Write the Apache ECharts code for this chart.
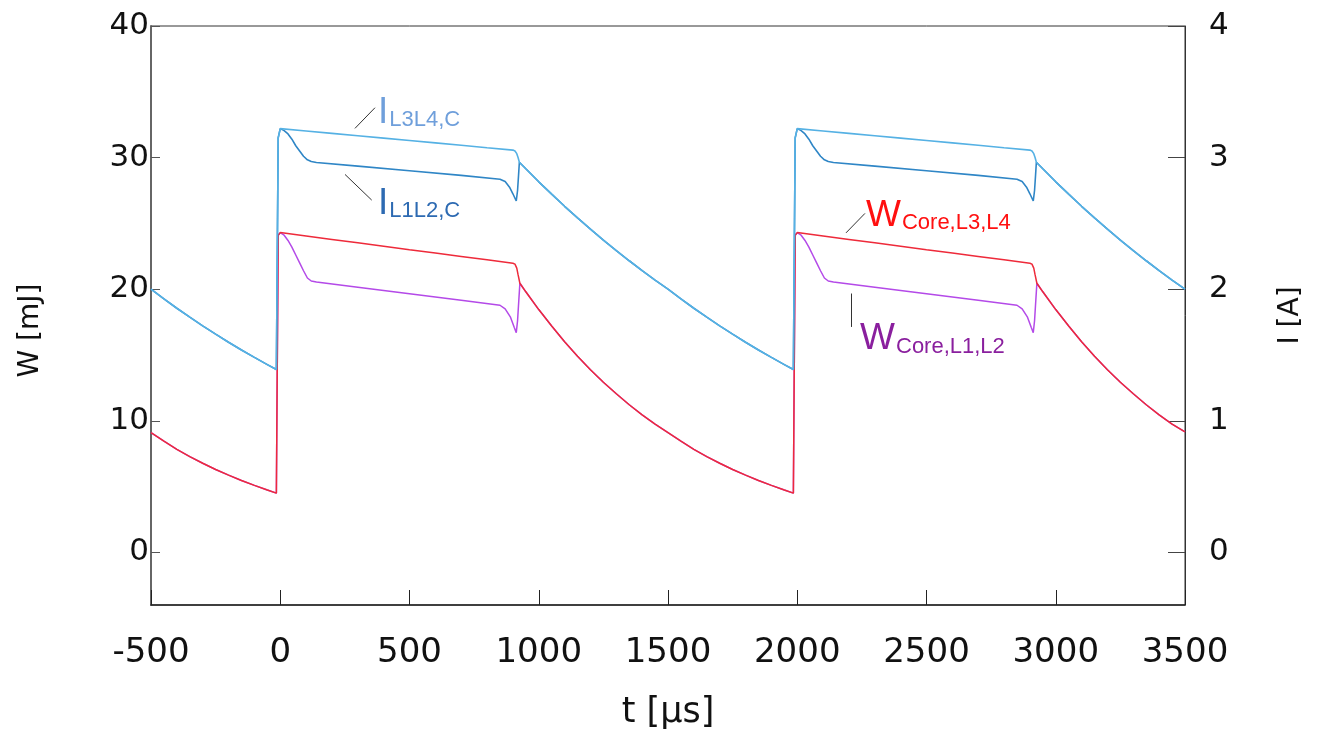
<!DOCTYPE html>
<html>
<head>
<meta charset="utf-8">
<script src="https://cdn.jsdelivr.net/npm/echarts@6/dist/echarts.min.js"></script>
<style>
html,body{margin:0;padding:0;background:#fff;}
#chart{width:1324px;height:731px;}
</style>
</head>
<body>
<div id="chart"></div>
<script>
// ---- data: [t (µs), value] ----
// I_L3L4,C  (A, right axis)
const iL3L4 = [
 [-500,2.00],[-450,1.926],[-400,1.855],[-350,1.787],[-300,1.721],[-250,1.658],[-200,1.597],[-150,1.538],[-100,1.482],[-50,1.427],[-15,1.39],[-8,3.15],
 [0,3.22],[100,3.202],[200,3.184],[300,3.166],[400,3.148],[500,3.13],[600,3.112],[700,3.094],[800,3.075],[900,3.057],
 [908,3.05],[915,3.03],[920,3.00],[925,2.965],[950,2.915],[1000,2.816],[1050,2.722],[1100,2.63],[1150,2.542],[1200,2.456],
 [1250,2.373],[1300,2.293],[1350,2.216],[1400,2.141],[1450,2.069],
 [1500,2.00],[1550,1.926],[1600,1.855],[1650,1.787],[1700,1.721],[1750,1.658],[1800,1.597],[1850,1.538],[1900,1.482],[1950,1.427],[1985,1.39],[1992,3.15],
 [2000,3.22],[2100,3.202],[2200,3.184],[2300,3.166],[2400,3.148],[2500,3.13],[2600,3.112],[2700,3.094],[2800,3.075],[2900,3.057],
 [2908,3.05],[2915,3.03],[2920,3.00],[2925,2.965],[2950,2.915],[3000,2.816],[3050,2.722],[3100,2.63],[3150,2.542],[3200,2.456],
 [3250,2.373],[3300,2.293],[3350,2.216],[3400,2.141],[3450,2.069],[3500,2.00]
];
// I_L1L2,C  (A, right axis)
const iL1L2 = [
 [-500,2.00],[-450,1.926],[-400,1.855],[-350,1.787],[-300,1.721],[-250,1.658],[-200,1.597],[-150,1.538],[-100,1.482],[-50,1.427],[-15,1.39],[-8,3.15],
 [0,3.22],[15,3.205],[30,3.18],[45,3.14],[60,3.09],[75,3.05],[90,3.01],[105,2.983],[120,2.97],[140,2.963],
 [300,2.935],[500,2.90],[700,2.865],[850,2.835],[870,2.818],[887,2.775],[900,2.725],[913,2.67],[918,2.75],[922,2.87],[925,2.965],
 [950,2.915],[1000,2.816],[1050,2.722],[1100,2.63],[1150,2.542],[1200,2.456],
 [1250,2.373],[1300,2.293],[1350,2.216],[1400,2.141],[1450,2.069],
 [1500,2.00],[1550,1.926],[1600,1.855],[1650,1.787],[1700,1.721],[1750,1.658],[1800,1.597],[1850,1.538],[1900,1.482],[1950,1.427],[1985,1.39],[1992,3.15],
 [2000,3.22],[2015,3.205],[2030,3.18],[2045,3.14],[2060,3.09],[2075,3.05],[2090,3.01],[2105,2.983],[2120,2.97],[2140,2.963],
 [2300,2.935],[2500,2.90],[2700,2.865],[2850,2.835],[2870,2.818],[2887,2.775],[2900,2.725],[2913,2.67],[2918,2.75],[2922,2.87],[2925,2.965],
 [2950,2.915],[3000,2.816],[3050,2.722],[3100,2.63],[3150,2.542],[3200,2.456],
 [3250,2.373],[3300,2.293],[3350,2.216],[3400,2.141],[3450,2.069],[3500,2.00]
];
// W_Core,L3,L4  (mJ, left axis)
const wL3L4 = [
 [-500,9.1],[-450,8.45],[-400,7.83],[-350,7.27],[-300,6.77],[-250,6.30],[-200,5.87],[-150,5.46],[-100,5.09],[-50,4.74],[-15,4.5],[-8,24.1],
 [0,24.3],[100,24.04],[200,23.78],[300,23.52],[400,23.26],[500,23.0],[600,22.75],[700,22.49],[800,22.23],[900,21.97],
 [908,21.9],[915,21.6],[920,21.1],[927,20.45],[950,19.8],[1000,18.45],[1050,17.2],[1100,16.0],[1150,14.9],[1200,13.88],
 [1250,12.93],[1300,12.05],[1350,11.22],[1400,10.45],[1450,9.75],
 [1500,9.1],[1550,8.45],[1600,7.83],[1650,7.27],[1700,6.77],[1750,6.30],[1800,5.87],[1850,5.46],[1900,5.09],[1950,4.74],[1985,4.5],[1992,24.1],
 [2000,24.3],[2100,24.04],[2200,23.78],[2300,23.52],[2400,23.26],[2500,23.0],[2600,22.75],[2700,22.49],[2800,22.23],[2900,21.97],
 [2908,21.9],[2915,21.6],[2920,21.1],[2927,20.45],[2950,19.8],[3000,18.45],[3050,17.2],[3100,16.0],[3150,14.9],[3200,13.88],
 [3250,12.93],[3300,12.05],[3350,11.22],[3400,10.45],[3450,9.75],[3500,9.15]
];
// W_Core,L1,L2  (mJ, left axis)
const wL1L2 = [
 [-500,9.1],[-450,8.45],[-400,7.83],[-350,7.27],[-300,6.77],[-250,6.30],[-200,5.87],[-150,5.46],[-100,5.09],[-50,4.74],[-15,4.5],[-8,24.1],
 [0,24.3],[15,24.1],[30,23.7],[45,23.2],[60,22.6],[75,22.0],[90,21.4],[105,20.85],[120,20.62],[140,20.55],
 [300,20.15],[500,19.65],[700,19.15],[850,18.78],[870,18.5],[890,17.9],[905,17.1],[913,16.7],[918,17.6],[923,19.2],[927,20.45],
 [950,19.8],[1000,18.45],[1050,17.2],[1100,16.0],[1150,14.9],[1200,13.88],
 [1250,12.93],[1300,12.05],[1350,11.22],[1400,10.45],[1450,9.75],
 [1500,9.1],[1550,8.45],[1600,7.83],[1650,7.27],[1700,6.77],[1750,6.30],[1800,5.87],[1850,5.46],[1900,5.09],[1950,4.74],[1985,4.5],[1992,24.1],
 [2000,24.3],[2015,24.1],[2030,23.7],[2045,23.2],[2060,22.6],[2075,22.0],[2090,21.4],[2105,20.85],[2120,20.62],[2140,20.55],
 [2300,20.15],[2500,19.65],[2700,19.15],[2850,18.78],[2870,18.5],[2890,17.9],[2905,17.1],[2913,16.7],[2918,17.6],[2923,19.2],[2927,20.45],
 [2950,19.8],[3000,18.45],[3050,17.2],[3100,16.0],[3150,14.9],[3200,13.88],
 [3250,12.93],[3300,12.05],[3350,11.22],[3400,10.45],[3450,9.75],[3500,9.15]
];
// tick labels
const xTicks = [-500,0,500,1000,1500,2000,2500,3000,3500];
const wTicks = [0,10,20,30,40];
const iTicks = [0,1,2,3,4];
// annotation anchors (data coords)
const labIL3L4 = {text:['I','L3L4,C'], at:[378,3.20]};
const labIL1L2 = {text:['I','L1L2,C'], at:[378,2.51]};
const labWL3L4 = {text:['W','Core,L3,L4'], at:[2266,24.2]};
const labWL1L2 = {text:['W','Core,L1,L2'], at:[2243,14.8]};
const leadIL3L4 = [[289,3.222],[366.5,3.379]];
const leadIL1L2 = [[250.5,2.872],[353.8,2.677]];
const leadWL3L4 = [[2188.6,24.28],[2262,25.76]];
const leadWL1L2 = [[2210.5,19.67],[2210.5,17.13]];

const FONT = 'DejaVu Sans';
const LFONT = 'Liberation Sans';

function label(lab, color){
  return {
    coord: lab.at,
    symbol: 'circle', symbolSize: 0,
    label: {
      show: true, position: [0,0], align: 'left', verticalAlign: 'bottom',
      formatter: '{a|' + lab.text[0] + '}{b|' + lab.text[1] + '}',
      rich: {
        a: {fontFamily: LFONT, fontSize: 37, color: color, verticalAlign: 'bottom', lineHeight: 40},
        b: {fontFamily: LFONT, fontSize: 22, color: color, verticalAlign: 'bottom', lineHeight: 30, padding:[0,0,0,1]}
      }
    }
  };
}
function lead(pts){
  return [{coord: pts[0]}, {coord: pts[1]}];
}
const leadStyle = {symbol:['none','none'], silent:true, animation:false, label:{show:false},
  lineStyle:{color:'#333', width:1, type:'solid'}, emphasis:{disabled:true}};

const chart = echarts.init(document.getElementById('chart'), null, {renderer:'canvas'});
chart.setOption({
  animation: false,
  backgroundColor: '#fff',
  grid: {left:151, right:139, top:26, bottom:126, show:true, borderColor:'#333', borderWidth:1,
         backgroundColor:'transparent', containLabel:false, outerBoundsMode:'none'},
  xAxis: {
    type:'value', min:-500, max:3500, interval:500,
    name:'t [µs]', nameLocation:'middle', nameGap:90,
    nameTextStyle:{fontFamily:FONT, fontSize:35, color:'#111'},
    axisLine:{show:true, onZero:false, lineStyle:{color:'#222', width:1.5}},
    axisTick:{show:true, inside:true, length:15, lineStyle:{color:'#222', width:1}, customValues: xTicks},
    axisLabel:{fontFamily:FONT, fontSize:34, color:'#111', margin:31, customValues: xTicks,
               formatter: function(v){ return String(v); }},
    splitLine:{show:false}
  },
  yAxis: [{
    type:'value', min:-4, max:40, position:'left',
    name:'W [mJ]', nameLocation:'middle', nameGap:106, nameRotate:90,
    nameTextStyle:{fontFamily:FONT, fontSize:28, color:'#111', padding:[0,30,0,0]},
    axisLine:{show:true, onZero:false, lineStyle:{color:'#666', width:2}},
    axisTick:{show:true, inside:true, length:9, lineStyle:{color:'#555', width:1}, customValues: wTicks},
    axisLabel:{fontFamily:FONT, fontSize:31, color:'#111', margin:2, customValues: wTicks,
               formatter: function(v){ return String(v); }},
    splitLine:{show:false}
  },{
    type:'value', min:-0.4, max:4, position:'right',
    name:'I [A]', nameLocation:'middle', nameGap:92, nameRotate:90,
    nameTextStyle:{fontFamily:FONT, fontSize:28, color:'#111'},
    axisLine:{show:true, onZero:false, lineStyle:{color:'#333', width:1}},
    axisTick:{show:true, inside:true, length:17, lineStyle:{color:'#444', width:1}, customValues: iTicks},
    axisLabel:{fontFamily:FONT, fontSize:31, color:'#111', margin:24, customValues: iTicks,
               formatter: function(v){ return String(v); }},
    splitLine:{show:false}
  }],
  series: [
    {name:'W_Core,L1,L2', type:'line', yAxisIndex:0, data:wL1L2, showSymbol:false, symbol:'none',
     lineStyle:{color:'#B44AE8', width:1.5}, z:2,
     markPoint:{data:[label(labWL1L2,'#8A1F9E')], animation:false, silent:true},
     markLine:Object.assign({data:[lead(leadWL1L2)]}, leadStyle)},
    {name:'W_Core,L3,L4', type:'line', yAxisIndex:0, data:wL3L4, showSymbol:false, symbol:'none',
     lineStyle:{color:'#EE2A3A', width:1.5}, z:3,
     markPoint:{data:[label(labWL3L4,'#FF1010')], animation:false, silent:true},
     markLine:Object.assign({data:[lead(leadWL3L4)]}, leadStyle)},
    {name:'I_L1L2,C', type:'line', yAxisIndex:1, data:iL1L2, showSymbol:false, symbol:'none',
     lineStyle:{color:'#2F86C6', width:1.6}, z:4,
     markPoint:{data:[label(labIL1L2,'#2D6AB2')], animation:false, silent:true},
     markLine:Object.assign({data:[lead(leadIL1L2)]}, leadStyle)},
    {name:'I_L3L4,C', type:'line', yAxisIndex:1, data:iL3L4, showSymbol:false, symbol:'none',
     lineStyle:{color:'#55B1E4', width:1.6}, z:5,
     markPoint:{data:[label(labIL3L4,'#6F9FDB')], animation:false, silent:true},
     markLine:Object.assign({data:[lead(leadIL3L4)]}, leadStyle)}
  ]
});
</script>
</body>
</html>
